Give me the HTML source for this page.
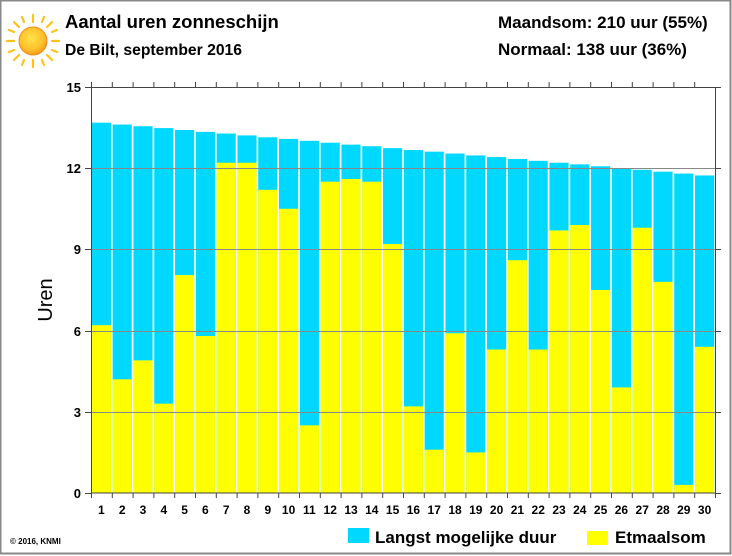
<!DOCTYPE html>
<html><head><meta charset="utf-8"><style>
html,body{margin:0;padding:0;background:#fff;}
svg{display:block;font-family:"Liberation Sans",Arial,sans-serif;}
</style></head><body>
<svg width="732" height="556" viewBox="0 0 732 556">
<rect x="0.5" y="0.5" width="730" height="553" fill="#fff" stroke="#888" stroke-width="2"/>
<defs><radialGradient id="sg" cx="0.45" cy="0.4" r="0.6"><stop offset="0" stop-color="#ffe34a"/><stop offset="0.7" stop-color="#ffc02a"/><stop offset="1" stop-color="#f59a1a"/></radialGradient></defs>
<g stroke="#ffc21a" stroke-width="2.2" stroke-linecap="round">
<line x1="33" y1="15" x2="33" y2="22"/><line x1="33" y1="60" x2="33" y2="67"/>
<line x1="7" y1="41" x2="14" y2="41"/><line x1="52" y1="41" x2="59" y2="41"/>
<line x1="14" y1="22" x2="19" y2="27"/><line x1="47" y1="55" x2="52" y2="60"/>
<line x1="52" y1="22" x2="47" y2="27"/><line x1="19" y1="55" x2="14" y2="60"/>
<line x1="22" y1="17" x2="24" y2="22"/><line x1="42" y1="60" x2="44" y2="65"/>
<line x1="44" y1="17" x2="42" y2="22"/><line x1="24" y1="60" x2="22" y2="65"/>
<line x1="9" y1="30" x2="14" y2="32"/><line x1="52" y1="50" x2="57" y2="52"/>
<line x1="57" y1="30" x2="52" y2="32"/><line x1="14" y1="50" x2="9" y2="52"/>
</g>
<circle cx="33" cy="41" r="14" fill="url(#sg)" stroke="#f28c1a" stroke-width="1"/>
<text x="65" y="28" font-size="18.5" font-weight="bold">Aantal uren zonneschijn</text>
<text x="65" y="55" font-size="15.7" font-weight="bold">De Bilt, september 2016</text>
<text x="498" y="28" font-size="17" font-weight="bold">Maandsom: 210 uur (55%)</text>
<text x="498" y="55" font-size="17" font-weight="bold">Normaal: 138 uur (36%)</text>

<g transform="translate(91,493) scale(20.8,-27.07)">
<g fill="#00d8ff">
<rect x="0.04" width="0.92" height="13.68"/><rect x="1.04" width="0.92" height="13.61"/><rect x="2.04" width="0.92" height="13.55"/><rect x="3.04" width="0.92" height="13.48"/><rect x="4.04" width="0.92" height="13.41"/><rect x="5.04" width="0.92" height="13.34"/><rect x="6.04" width="0.92" height="13.28"/><rect x="7.04" width="0.92" height="13.21"/><rect x="8.04" width="0.92" height="13.14"/><rect x="9.04" width="0.92" height="13.08"/><rect x="10.04" width="0.92" height="13.01"/><rect x="11.04" width="0.92" height="12.94"/><rect x="12.04" width="0.92" height="12.87"/><rect x="13.04" width="0.92" height="12.81"/><rect x="14.04" width="0.92" height="12.74"/><rect x="15.04" width="0.92" height="12.67"/><rect x="16.04" width="0.92" height="12.61"/><rect x="17.04" width="0.92" height="12.54"/><rect x="18.04" width="0.92" height="12.47"/><rect x="19.04" width="0.92" height="12.41"/><rect x="20.04" width="0.92" height="12.34"/><rect x="21.04" width="0.92" height="12.27"/><rect x="22.04" width="0.92" height="12.20"/><rect x="23.04" width="0.92" height="12.14"/><rect x="24.04" width="0.92" height="12.07"/><rect x="25.04" width="0.92" height="12.00"/><rect x="26.04" width="0.92" height="11.94"/><rect x="27.04" width="0.92" height="11.87"/><rect x="28.04" width="0.92" height="11.80"/><rect x="29.04" width="0.92" height="11.73"/>
</g>
<g fill="#ffff00">
<rect x="0.04" width="0.92" height="6.2"/><rect x="1.04" width="0.92" height="4.2"/><rect x="2.04" width="0.92" height="4.9"/><rect x="3.04" width="0.92" height="3.3"/><rect x="4.04" width="0.92" height="8.05"/><rect x="5.04" width="0.92" height="5.8"/><rect x="6.04" width="0.92" height="12.2"/><rect x="7.04" width="0.92" height="12.2"/><rect x="8.04" width="0.92" height="11.2"/><rect x="9.04" width="0.92" height="10.5"/><rect x="10.04" width="0.92" height="2.5"/><rect x="11.04" width="0.92" height="11.5"/><rect x="12.04" width="0.92" height="11.6"/><rect x="13.04" width="0.92" height="11.5"/><rect x="14.04" width="0.92" height="9.2"/><rect x="15.04" width="0.92" height="3.2"/><rect x="16.04" width="0.92" height="1.6"/><rect x="17.04" width="0.92" height="5.9"/><rect x="18.04" width="0.92" height="1.5"/><rect x="19.04" width="0.92" height="5.3"/><rect x="20.04" width="0.92" height="8.6"/><rect x="21.04" width="0.92" height="5.3"/><rect x="22.04" width="0.92" height="9.7"/><rect x="23.04" width="0.92" height="9.9"/><rect x="24.04" width="0.92" height="7.5"/><rect x="25.04" width="0.92" height="3.9"/><rect x="26.04" width="0.92" height="9.8"/><rect x="27.04" width="0.92" height="7.8"/><rect x="28.04" width="0.92" height="0.3"/><rect x="29.04" width="0.92" height="5.4"/>
</g>
</g>
<g stroke="#666" stroke-width="1" fill="none">
<line x1="91" y1="412.5" x2="715" y2="412.5" stroke="#888"/>
<line x1="91" y1="331.5" x2="715" y2="331.5" stroke="#888"/>
<line x1="91" y1="249.5" x2="715" y2="249.5" stroke="#888"/>
<line x1="91" y1="168.5" x2="715" y2="168.5" stroke="#888"/>
<rect x="91.5" y="87.5" width="624" height="405.5" stroke="#444"/>
<path d="M85 87.5h6M85 168.5h6M85 249.5h6M85 331.5h6M85 412.5h6M85 493.5h6M715 87.5h6M715 168.5h6M715 249.5h6M715 331.5h6M715 412.5h6M715 493.5h6" stroke="#444"/>
<path d="M91.5 493v5M112.3 493v5M133.1 493v5M153.9 493v5M174.7 493v5M195.5 493v5M216.3 493v5M237.1 493v5M257.9 493v5M278.7 493v5M299.5 493v5M320.3 493v5M341.1 493v5M361.9 493v5M382.7 493v5M403.5 493v5M424.3 493v5M445.1 493v5M465.9 493v5M486.7 493v5M507.5 493v5M528.3 493v5M549.1 493v5M569.9 493v5M590.7 493v5M611.5 493v5M632.3 493v5M653.1 493v5M673.9 493v5M694.7 493v5M715.5 493v5" stroke="#444"/>
<path d="M91.5 87v-5M112.3 87v-5M133.1 87v-5M153.9 87v-5M174.7 87v-5M195.5 87v-5M216.3 87v-5M237.1 87v-5M257.9 87v-5M278.7 87v-5M299.5 87v-5M320.3 87v-5M341.1 87v-5M361.9 87v-5M382.7 87v-5M403.5 87v-5M424.3 87v-5M445.1 87v-5M465.9 87v-5M486.7 87v-5M507.5 87v-5M528.3 87v-5M549.1 87v-5M569.9 87v-5M590.7 87v-5M611.5 87v-5M632.3 87v-5M653.1 87v-5M673.9 87v-5M694.7 87v-5" stroke="#444"/>
</g>
<g font-size="13" font-weight="bold" text-anchor="end">
<text x="81" y="92">15</text><text x="81" y="173">12</text><text x="81" y="254">9</text><text x="81" y="336">6</text><text x="81" y="417">3</text><text x="81" y="498">0</text>
</g>
<text transform="translate(52,300) rotate(-90)" font-size="20" text-anchor="middle">Uren</text>
<g font-size="12" font-weight="bold" text-anchor="middle">
<text x="101.4" y="514">1</text><text x="122.2" y="514">2</text><text x="143" y="514">3</text><text x="163.8" y="514">4</text><text x="184.6" y="514">5</text><text x="205.4" y="514">6</text><text x="226.2" y="514">7</text><text x="247" y="514">8</text><text x="267.8" y="514">9</text><text x="288.6" y="514">10</text><text x="309.4" y="514">11</text><text x="330.2" y="514">12</text><text x="351" y="514">13</text><text x="371.8" y="514">14</text><text x="392.6" y="514">15</text><text x="413.4" y="514">16</text><text x="434.2" y="514">17</text><text x="455" y="514">18</text><text x="475.8" y="514">19</text><text x="496.6" y="514">20</text><text x="517.4" y="514">21</text><text x="538.2" y="514">22</text><text x="559" y="514">23</text><text x="579.8" y="514">24</text><text x="600.6" y="514">25</text><text x="621.4" y="514">26</text><text x="642.2" y="514">27</text><text x="663" y="514">28</text><text x="683.8" y="514">29</text><text x="704.6" y="514">30</text>
</g>
<text x="10" y="544" font-size="8" font-weight="bold">© 2016, KNMI</text>
<rect x="348" y="528" width="21" height="15" fill="#00d8ff"/>
<text x="375" y="543" font-size="17" font-weight="bold">Langst mogelijke duur</text>
<rect x="587" y="531" width="21" height="14" fill="#ffff00"/>
<text x="615" y="543" font-size="17" font-weight="bold">Etmaalsom</text>
</svg>
</body></html>
